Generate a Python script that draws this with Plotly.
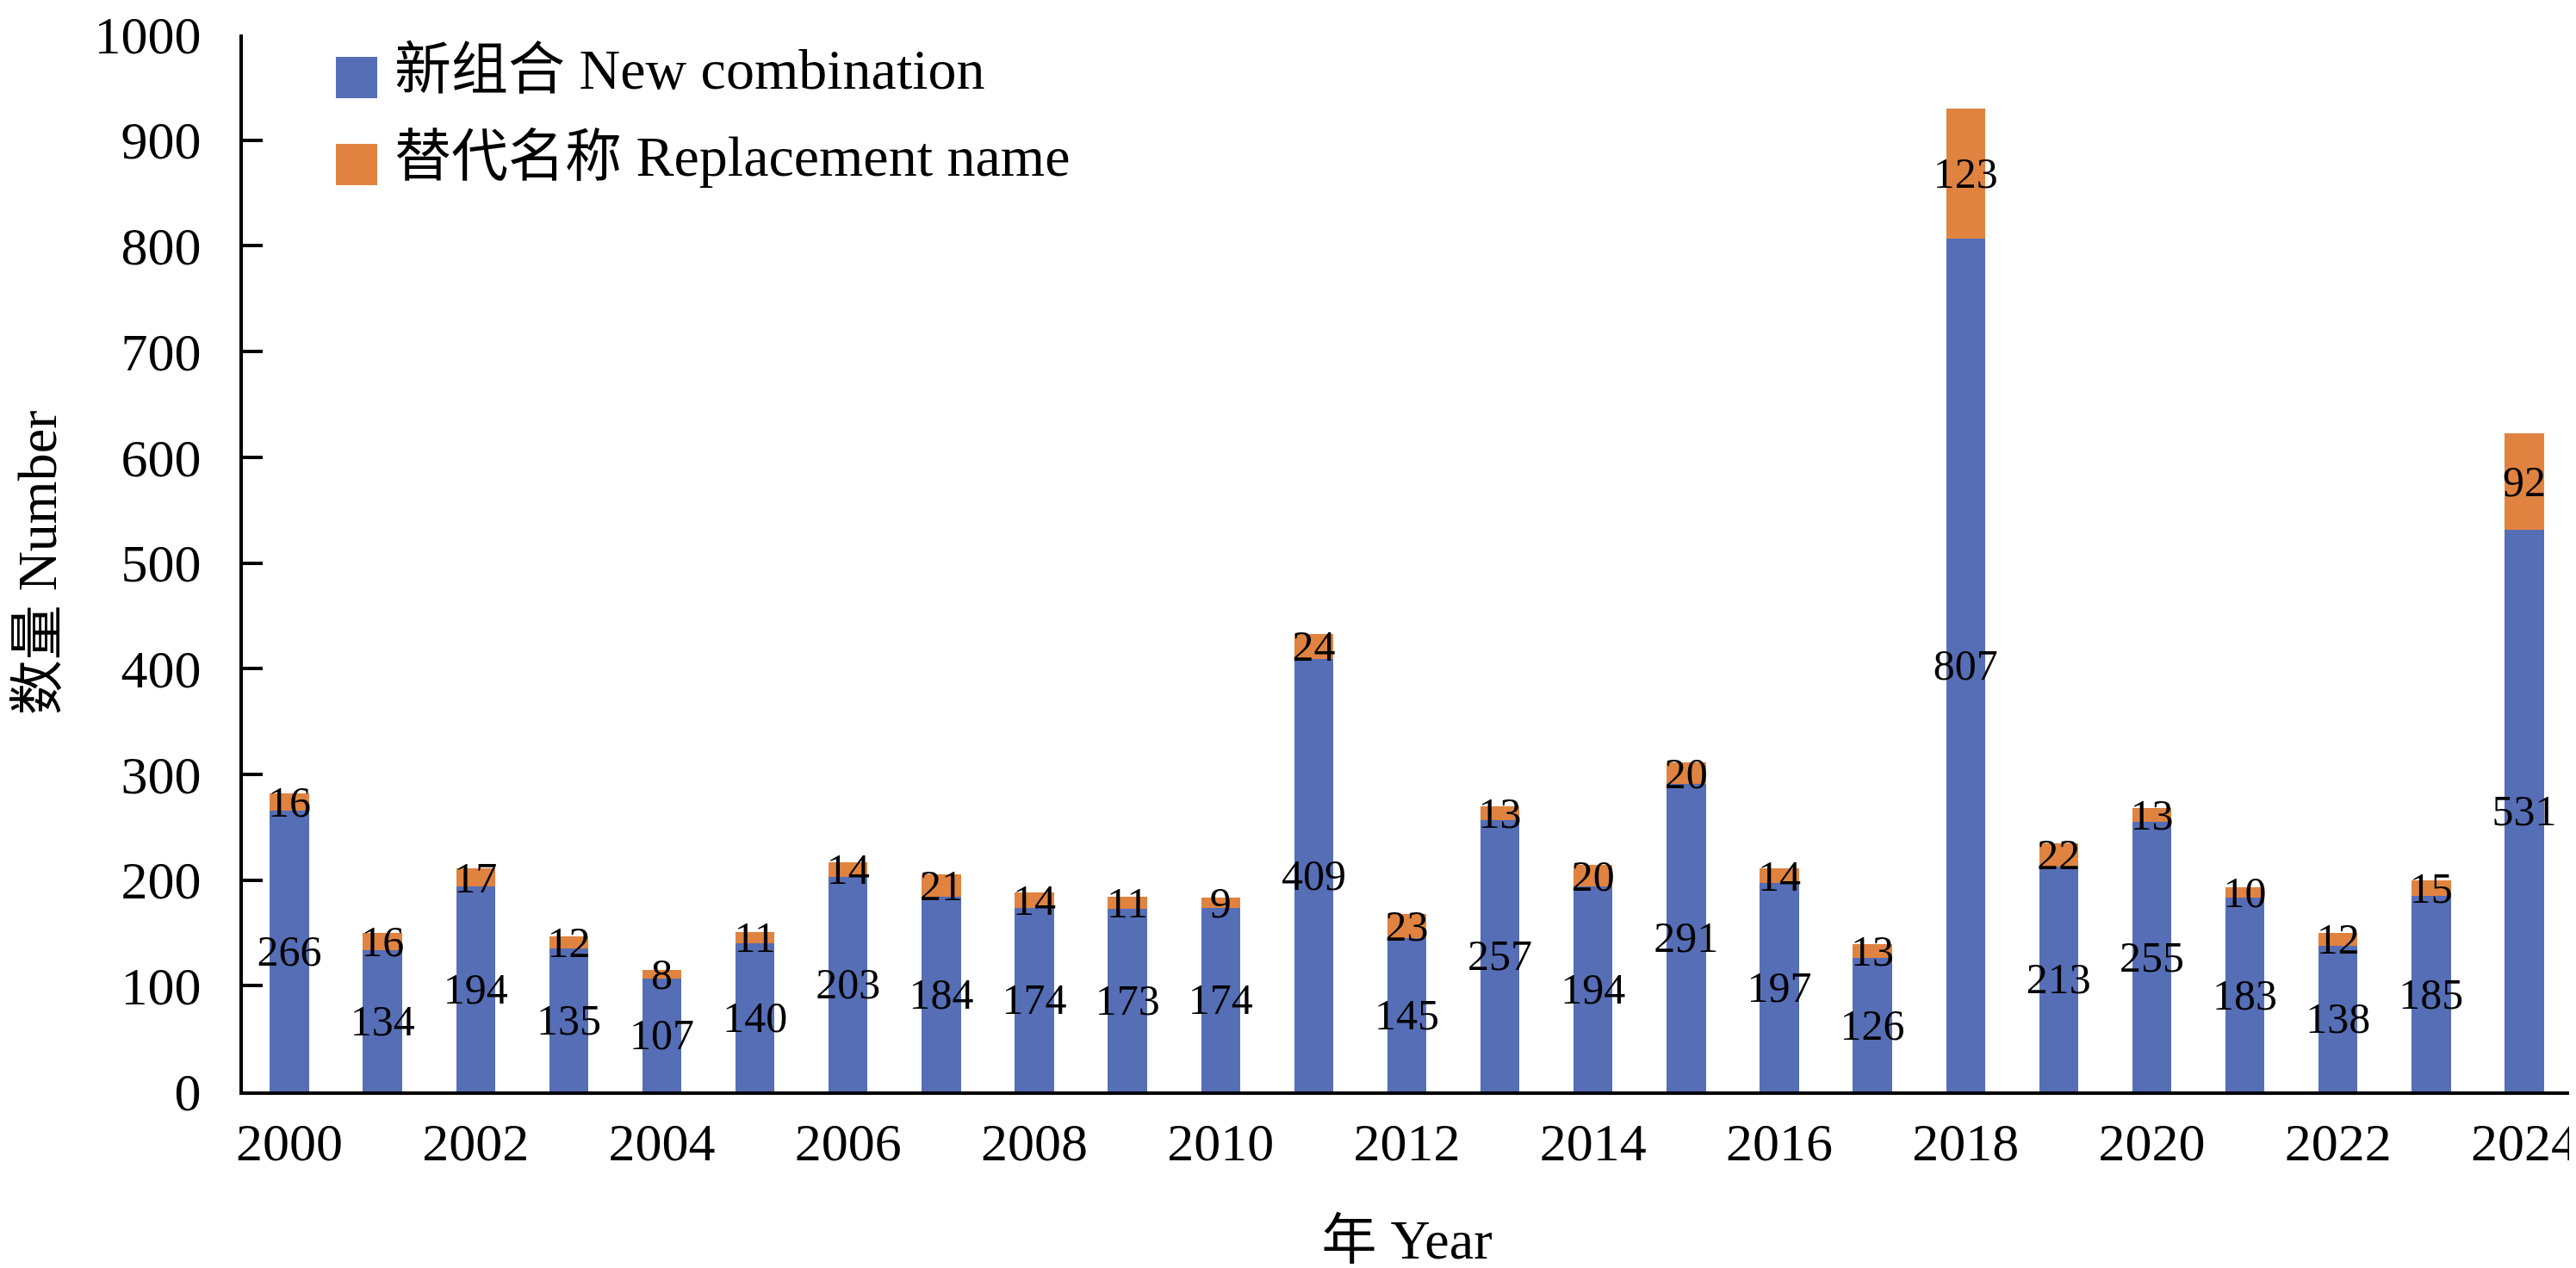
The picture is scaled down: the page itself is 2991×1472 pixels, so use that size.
import plotly.graph_objects as go

years = list(range(2000, 2025))
new_combination = [266, 134, 194, 135, 107, 140, 203, 184, 174, 173, 174, 409, 145,
                   257, 194, 291, 197, 126, 807, 213, 255, 183, 138, 185, 531]
replacement_name = [16, 16, 17, 12, 8, 11, 14, 21, 14, 11, 9, 24, 23,
                    13, 20, 20, 14, 13, 123, 22, 13, 10, 12, 15, 92]
series_names = ["新组合 New combination", "替代名称 Replacement name"]
y_ticks = list(range(0, 1001, 100))
x_ticks = list(range(2000, 2025, 2))

BLUE = "#556EB6"
ORANGE = "#E08340"
FONT = "Liberation Serif, Noto Sans CJK SC, serif"

W, H = 2991, 1472
ML, MR, MT, MB = 274, 14, 32, 213

fig = go.Figure()
for vals, name, col in [(new_combination, series_names[0], BLUE),
                        (replacement_name, series_names[1], ORANGE)]:
    fig.add_trace(go.Bar(
        x=years, y=vals, name=name, marker=dict(color=col, line=dict(width=0)),
        text=[str(v) for v in vals], textposition="inside",
        insidetextanchor="middle", constraintext="none", textangle=0,
        insidetextfont=dict(family=FONT, size=50, color="black"),
        showlegend=False,
    ))

# custom legend (large swatches)
pw = W - ML - MR
ph = H - MT - MB
def px_x(p):
    return (p - ML) / pw
def px_y(p):
    return (H - MB - p) / ph

for i, (name, col) in enumerate([(series_names[0], BLUE), (series_names[1], ORANGE)]):
    top = 58 + i * 101
    fig.add_shape(type="rect", xref="paper", yref="paper",
                  x0=px_x(382), x1=px_x(430), y0=px_y(top + 48), y1=px_y(top),
                  fillcolor=col, line=dict(width=0))
    fig.add_annotation(xref="paper", yref="paper", x=px_x(448), y=px_y(top + 14),
                       text=name, showarrow=False, xanchor="left", yanchor="middle",
                       font=dict(family=FONT, size=66, color="black"))

fig.update_layout(
    width=W, height=H, barmode="stack", bargap=0.58,
    paper_bgcolor="white", plot_bgcolor="white",
    margin=dict(l=ML, r=MR, t=MT, b=MB, autoexpand=False),
    font=dict(family=FONT, color="black"),
)
fig.update_xaxes(
    range=[1999.5, 2024.5], tickvals=x_ticks, ticktext=[str(t) for t in x_ticks],
    showline=True, linecolor="black", linewidth=4, ticks="", showgrid=False,
    zeroline=False, tickfont=dict(family=FONT, size=62, color="black"),
    ticklabelstandoff=2, ticklabeloverflow="allow",
    title=dict(text="年 Year", font=dict(family=FONT, size=64, color="black"), standoff=58),
)
fig.update_yaxes(
    range=[0, 1000], tickvals=y_ticks, ticktext=[str(t) for t in y_ticks],
    showline=True, linecolor="black", linewidth=4, ticks="inside", ticklen=23,
    tickwidth=4, tickcolor="black", showgrid=False, zeroline=False,
    tickfont=dict(family=FONT, size=62, color="black"), ticklabelstandoff=32,
    ticklabeloverflow="allow",
    title=dict(text="数量 Number", font=dict(family=FONT, size=64, color="black"), standoff=80),
)

fig.write_html("out.html")
